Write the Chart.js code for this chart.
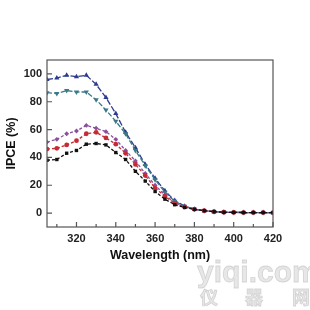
<!DOCTYPE html>
<html lang="en">
<head>
    <meta charset="UTF-8">
    <title>IPCE</title>
    <script src="https://cdn.jsdelivr.net/npm/chart.js"></script>
    <style>
        html, body { margin: 0; padding: 0; background: #fff; }
        #box { position: relative; width: 310px; height: 310px; }
        #grafico { width: 310px; height: 310px; }
    </style>
</head>
<body>
    <div id="box">
        <canvas id="grafico" width="310" height="310"></canvas>
    </div>

    <script>
        const wavelength = [305, 310, 315, 320, 325, 330, 335, 340, 345, 350, 355, 360, 365, 370, 375, 380, 385, 390, 395, 400, 405, 410, 415, 420];
        const serieBlack  = [38, 38.5, 43, 45, 49.5, 50, 49, 43.5, 38.5, 30, 23, 15.5, 10, 6, 4, 2.7, 1.7, 1, 0.6, 0.5, 0.4, 0.4, 0.4, 0.3];
        const serieRed    = [46, 46.5, 49, 52, 57, 58, 54, 49.5, 43, 35, 27, 18, 12, 7, 4.5, 2.7, 1.7, 1, 0.6, 0.5, 0.4, 0.4, 0.4, 0.3];
        const seriePurple = [51, 53, 57, 59, 63, 61, 58.5, 53, 45, 37.5, 28.5, 20, 13, 7.5, 4.6, 2.7, 1.7, 1, 0.6, 0.5, 0.4, 0.4, 0.4, 0.3];
        const serieTeal   = [86.5, 86, 88, 87, 87, 81.5, 74, 66, 57, 45, 34, 24, 15, 8.5, 5, 2.8, 1.7, 1, 0.6, 0.5, 0.4, 0.4, 0.4, 0.3];
        const serieBlue   = [96, 97, 99, 98, 99, 92.5, 83, 71.5, 58, 47, 35, 25, 16, 9, 5, 2.8, 1.7, 1, 0.6, 0.5, 0.4, 0.4, 0.4, 0.3];
        const yTicks = [0, 20, 40, 60, 80, 100];
        const xTicks = [320, 340, 360, 380, 400, 420];
        const xMinor = [310, 330, 350, 370, 390, 410];

        function serie(values, color, style, rot, dash) {
            return {
                data: wavelength.map((x, i) => ({ x: x, y: values[i] })),
                borderColor: color,
                backgroundColor: color,
                borderWidth: 1.3,
                borderDash: dash,
                pointStyle: style,
                pointRotation: rot,
                pointRadius: style === 'triangle' ? 3 : 2.4,
                pointBorderWidth: 0,
                tension: 0
            };
        }

        const datasets = [
            serie(serieBlack, '#111111', 'rect', 0, [3, 2]),
            serie(serieRed, '#c62a35', 'circle', 0, [3, 2]),
            serie(seriePurple, '#8b4f9c', 'rectRot', 0, [3, 2]),
            serie(serieTeal, '#3a7a86', 'triangle', 180, [5, 2]),
            serie(serieBlue, '#2c3b8e', 'triangle', 0, [6, 2])
        ];

        const moldura = {
            id: 'moldura',
            afterDraw(chart) {
                const ctx = chart.ctx;
                const a = chart.chartArea;
                const xs = chart.scales.x, ys = chart.scales.y;
                ctx.save();
                ctx.strokeStyle = '#555';
                ctx.lineWidth = 1.2;
                ctx.strokeRect(a.left, a.top, a.right - a.left, a.bottom - a.top);
                ctx.beginPath();
                xTicks.forEach(v => {
                    const p = xs.getPixelForValue(v);
                    ctx.moveTo(p, a.bottom); ctx.lineTo(p, a.bottom - 5);
                });
                xMinor.forEach(v => {
                    const p = xs.getPixelForValue(v);
                    ctx.moveTo(p, a.bottom); ctx.lineTo(p, a.bottom - 3);
                });
                yTicks.forEach(v => {
                    const p = ys.getPixelForValue(v);
                    ctx.moveTo(a.left, p); ctx.lineTo(a.left + 5, p);
                });
                ctx.stroke();

                // marca d'agua
                ctx.font = 'bold 30px "Liberation Sans", Arial, sans-serif';
                ctx.fillStyle = 'rgba(225,225,225,0.8)';
                ctx.strokeStyle = 'rgba(190,190,190,0.6)';
                ctx.lineWidth = 0.8;
                ctx.textBaseline = 'alphabetic';
                ctx.fillText('yiqi.com', 197, 282);
                ctx.strokeText('yiqi.com', 197, 282);
                ctx.font = 'bold 18px "Noto Sans CJK SC", sans-serif';
                ctx.fillText('仪', 200, 304);
                ctx.strokeText('仪', 200, 304);
                ctx.fillText('器', 245, 304);
                ctx.strokeText('器', 245, 304);
                ctx.fillText('网', 292, 304);
                ctx.strokeText('网', 292, 304);
                ctx.restore();
            }
        };

        const ctx = document.getElementById('grafico').getContext('2d');
        const myChart = new Chart(ctx, {
            type: 'line',
            data: { datasets: datasets },
            options: {
                responsive: false,
                animation: false,
                layout: { padding: { top: 60, right: 37, bottom: 43, left: 0 } },
                plugins: { legend: { display: false }, tooltip: { enabled: false } },
                scales: {
                    x: {
                        type: 'linear',
                        min: 305,
                        max: 420,
                        afterBuildTicks: s => { s.ticks = xTicks.map(v => ({ value: v })); },
                        afterFit: s => { s.height = 40; },
                        grid: { display: false, drawTicks: false },
                        border: { display: false },
                        ticks: {
                            padding: 5,
                            color: '#222',
                            font: { family: '"Liberation Sans", Arial, sans-serif', size: 11, weight: 'bold' }
                        },
                        title: {
                            display: true,
                            text: 'Wavelength (nm)',
                            color: '#111',
                            padding: { top: 2 },
                            font: { family: '"Liberation Sans", Arial, sans-serif', size: 12.5, weight: 'bold' }
                        }
                    },
                    y: {
                        min: -10,
                        max: 110,
                        afterBuildTicks: s => { s.ticks = yTicks.map(v => ({ value: v })); },
                        afterFit: s => { s.width = 47; },
                        grid: { display: false, drawTicks: false },
                        border: { display: false },
                        ticks: {
                            padding: 5,
                            color: '#222',
                            font: { family: '"Liberation Sans", Arial, sans-serif', size: 11, weight: 'bold' }
                        },
                        title: {
                            display: true,
                            text: 'IPCE (%)',
                            color: '#111',
                            padding: { bottom: 2 },
                            font: { family: '"Liberation Sans", Arial, sans-serif', size: 12.5, weight: 'bold' }
                        }
                    }
                }
            },
            plugins: [moldura]
        });
    </script>
</body>
</html>
